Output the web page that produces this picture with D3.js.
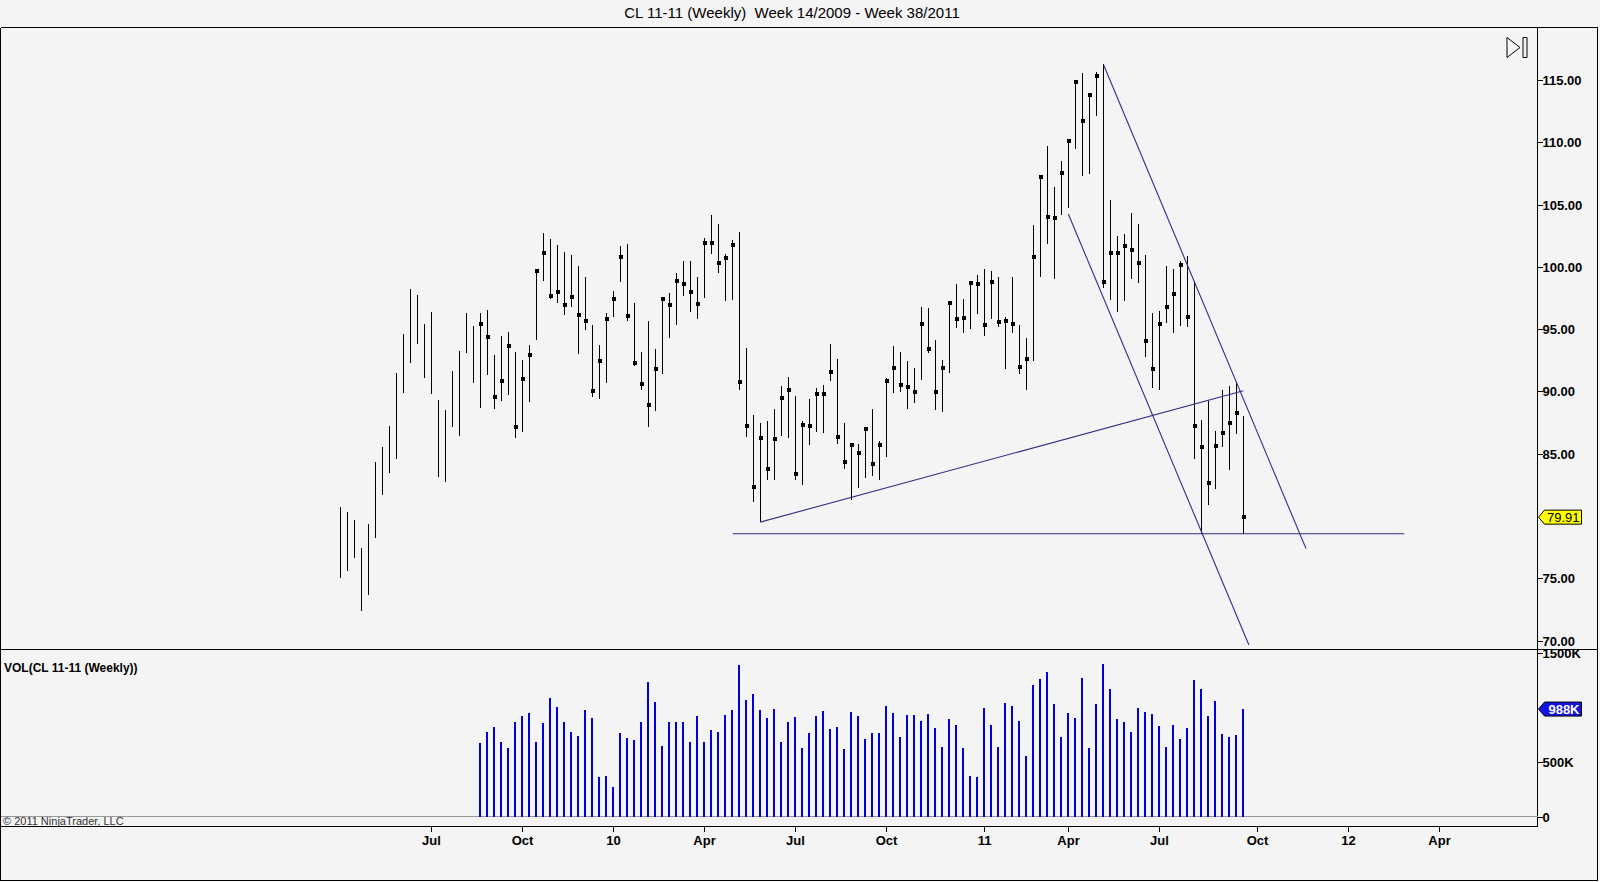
<!DOCTYPE html>
<html>
<head>
<meta charset="utf-8">
<script src="https://cdn.jsdelivr.net/npm/d3@7"></script>
<style>
  html, body { margin: 0; padding: 0; background: #f4f4f4; }
  svg { display: block; font-family: "Liberation Sans", Arial, sans-serif; }
</style>
</head>
<body>
<svg id="chart" width="1600" height="882"></svg>
<script>
// weekly bars, first bar = week 14/2009 (Fri Apr 3)
const firstBar = Date.UTC(2009, 3, 3);

const highs = [80.72,80.29,79.65,77.40,79.35,84.32,85.52,87.21,91.47,94.61,
  98.23,97.75,95.42,96.38,89.30,88.50,91.63,93.24,96.30,95.26,
  96.30,96.54,92.92,94.45,94.77,93.16,92.52,93.72,99.84,102.68,
  102.26,101.72,101.16,100.97,100.08,99.20,95.34,93.72,96.33,98.10,
  101.64,101.80,97.13,93.19,95.68,93.43,97.45,97.94,99.47,100.51,
  100.51,99.22,102.28,104.13,103.41,101.00,102.12,102.76,93.46,88.10,
  87.43,87.61,88.56,90.43,91.15,89.65,87.64,89.38,90.25,90.51,
  93.80,92.58,87.43,85.87,85.82,87.05,88.58,86.00,91.05,93.65,
  93.19,92.44,91.85,96.76,96.68,94.13,92.52,97.27,98.64,97.43,
  98.88,99.36,99.84,99.68,99.20,96.00,99.20,95.31,94.29,103.38,
  107.22,109.74,106.40,108.53,110.22,114.97,115.53,113.92,115.64,116.26,
  105.40,102.44,102.66,104.32,103.46,100.97,96.28,96.46,100.03,99.84,
  100.49,100.89,98.88,87.70,89.22,86.81,90.11,90.43,90.70,88.02];

const lows = [75.00,75.57,76.62,72.35,73.64,78.23,81.69,83.46,84.58,89.89,
  92.30,93.83,91.10,89.81,83.13,82.73,87.16,86.43,93.11,90.70,
  88.68,91.34,88.60,89.25,89.73,86.27,86.75,89.17,94.13,98.90,
  97.45,97.13,96.14,96.81,93.03,94.96,89.57,89.41,90.70,96.00,
  98.82,95.68,92.06,90.13,87.16,88.44,91.42,94.32,95.36,97.70,
  96.41,95.84,97.53,101.07,99.47,97.29,97.37,90.11,86.35,81.12,
  79.51,82.87,82.87,86.41,86.30,82.87,82.47,85.68,86.75,86.65,
  90.86,85.82,83.81,81.26,82.25,83.05,83.19,82.92,84.74,89.84,
  89.97,88.56,89.04,90.91,93.06,88.50,88.36,91.50,95.07,94.72,
  94.99,96.22,94.48,95.84,95.20,91.82,94.72,91.42,90.13,92.47,
  99.18,101.83,99.01,104.13,104.73,109.50,107.27,107.43,112.07,98.29,
  97.35,96.41,97.29,99.04,98.69,92.79,90.25,90.11,95.47,94.72,
  95.28,95.20,84.61,78.58,80.91,82.20,85.55,83.73,86.62,78.58];

// no close/volume in the data for the first 20 weeks
const closes = [null,null,null,null,null,null,null,null,null,null,
  null,null,null,null,null,null,null,null,null,null,
  95.44,94.40,89.57,90.86,93.67,87.16,91.00,92.95,99.70,101.15,
  97.67,98.02,96.97,97.61,96.16,95.68,90.05,92.47,95.84,97.45,
  100.83,96.08,92.30,90.62,88.93,91.82,97.45,96.97,98.90,98.66,
  98.02,97.05,101.88,101.88,100.27,100.75,101.72,90.78,87.24,82.33,
  86.27,83.75,86.17,89.49,90.13,83.38,87.32,87.24,89.79,89.79,
  91.58,86.35,84.34,85.71,85.06,86.97,84.18,85.71,90.83,91.90,
  90.51,90.33,89.97,95.44,93.43,89.97,91.90,97.13,95.84,95.92,
  98.74,98.66,95.36,98.82,95.60,95.68,95.44,91.98,92.63,100.83,
  107.18,103.97,103.89,107.51,110.08,114.83,111.69,113.79,115.35,98.82,
  101.15,101.15,101.64,101.32,100.30,94.07,91.82,95.44,96.81,97.85,
  100.11,96.00,87.24,85.55,82.65,85.63,86.67,87.48,88.23,79.91];

// volume in thousands
const volumes = [null,null,null,null,null,null,null,null,null,null,
  null,null,null,null,null,null,null,null,null,null,
  681,782,819,690,632,865,926,948,690,856,
  1092,1009,871,782,742,975,902,365,374,273,
  764,718,705,865,1239,1049,650,871,871,865,
  690,920,690,797,782,938,981,1395,1073,1129,
  981,908,991,690,871,917,632,764,926,972,
  807,825,623,963,926,715,764,764,1018,948,
  733,935,935,880,945,816,641,899,843,632,
  374,365,1000,843,641,1046,1018,880,558,1211,
  1266,1331,1037,733,954,908,1276,632,1037,1405,
  1175,899,871,779,1000,963,945,834,641,843,
  715,816,1257,1175,926,1064,761,733,751,988];

// drawn lines: [bar index, price] -> [bar index, price]
const trendLines = [
  [[60, 79.51], [129, 90.05]],
  [[109.05, 116.2], [137.96, 77.38]],
  [[104.0, 104.24], [129.8, 69.65]],
  [[56.06, 78.58], [152, 78.58]]
];

const priceTicks = [70, 75, 80, 85, 90, 95, 100, 105, 110, 115];
const volTicks = [0, 500, 1000, 1500];
const tickMonths = ["2009-07","2009-10","2010-01","2010-04","2010-07","2010-10",
  "2011-01","2011-04","2011-07","2011-10","2012-01","2012-04"];
const tickLabels = ["Jul","Oct","10","Apr","Jul","Oct","11","Apr","Jul","Oct","12","Apr"];

const lastPrice = 79.91;
const lastVol = 988;

const svg = d3.select("#chart");
const axisX = 1537.5;

function barDate(i) { return new Date(firstBar + i * 7 * 864e5); }

const x = d3.scaleUtc()
  .domain([barDate(0), barDate(129)])
  .range([340.3, 1243.3]);
const y = d3.scaleLinear().domain([69.3, 119.23]).range([649.3, 27.3]);
const yv = d3.scaleLinear().domain([0, 1500]).range([816.7, 653.3]);

function px(i) { return Math.round(x(barDate(i))) + 0.5; }

svg.append("rect").attr("width", 1600).attr("height", 882).attr("fill", "#f4f4f4");

// title
svg.append("text")
  .attr("x", 792).attr("y", 18)
  .attr("text-anchor", "middle")
  .style("font-size", "15px")
  .style("white-space", "pre")
  .attr("fill", "#000")
  .text("CL 11-11 (Weekly)  Week 14/2009 - Week 38/2011");

// frames
const frame = svg.append("g").attr("stroke", "#000").attr("stroke-width", 1).attr("fill", "none")
  .attr("shape-rendering", "crispEdges");
frame.append("line").attr("x1", 0.5).attr("x2", 1597.5).attr("y1", 27.5).attr("y2", 27.5);
frame.append("line").attr("x1", 0.5).attr("x2", 0.5).attr("y1", 27.5).attr("y2", 880.5);
frame.append("line").attr("x1", 1597.5).attr("x2", 1597.5).attr("y1", 27.5).attr("y2", 880.5);
frame.append("line").attr("x1", 0.5).attr("x2", 1597.5).attr("y1", 649.5).attr("y2", 649.5);
frame.append("line").attr("x1", 0.5).attr("x2", axisX).attr("y1", 826.5).attr("y2", 826.5);
frame.append("line").attr("x1", 0.5).attr("x2", 1597.5).attr("y1", 880.5).attr("y2", 880.5);
frame.append("line").attr("x1", axisX).attr("x2", axisX).attr("y1", 27.5).attr("y2", 826.5);
svg.append("line").attr("x1", 0.5).attr("x2", axisX).attr("y1", 816.5).attr("y2", 816.5)
  .attr("stroke", "#999").attr("shape-rendering", "crispEdges");

// price bars
const idx = d3.range(highs.length);
const bars = svg.append("g").attr("shape-rendering", "crispEdges");
bars.selectAll("line").data(idx).join("line")
  .attr("x1", d => px(d)).attr("x2", d => px(d))
  .attr("y1", d => Math.round(y(highs[d]))).attr("y2", d => Math.round(y(lows[d])))
  .attr("stroke", "#000").attr("stroke-width", 1);
bars.selectAll("rect").data(idx.filter(d => closes[d] != null)).join("rect")
  .attr("x", d => px(d) - 2).attr("y", d => Math.round(y(closes[d])) - 2)
  .attr("width", 4).attr("height", 4)
  .attr("fill", "#000");

// trend lines
svg.append("g").selectAll("line").data(trendLines).join("line")
  .attr("x1", d => x(barDate(d[0][0]))).attr("y1", d => y(d[0][1]))
  .attr("x2", d => x(barDate(d[1][0]))).attr("y2", d => y(d[1][1]))
  .attr("stroke", "#2e2e8a").attr("stroke-width", 1.1);

// volume
svg.append("g").attr("shape-rendering", "crispEdges")
  .selectAll("rect").data(idx.filter(d => volumes[d] != null)).join("rect")
  .attr("x", d => Math.round(x(barDate(d))) - 1)
  .attr("y", d => yv(volumes[d]))
  .attr("width", 2)
  .attr("height", d => yv(0) - yv(volumes[d]))
  .attr("fill", "#0000dc");

svg.append("text").attr("x", 4).attr("y", 672)
  .style("font-size", "12px").style("font-weight", "bold")
  .text("VOL(CL 11-11 (Weekly))");

svg.append("text").attr("x", 3).attr("y", 825)
  .style("font-size", "11px").attr("fill", "#333")
  .text("\u00a9 2011 NinjaTrader, LLC");

// right axes; a label that would sit under the last-value marker is left out
function axisTicks(ticks, scale, fmt, markerY) {
  const g = svg.append("g");
  ticks.filter(t => Math.abs(scale(t) - markerY) > 14).forEach(t => {
    const yy = Math.round(scale(t)) + 0.5;
    g.append("line").attr("x1", axisX).attr("x2", axisX + 5).attr("y1", yy).attr("y2", yy)
      .attr("stroke", "#000").attr("shape-rendering", "crispEdges");
    g.append("text").attr("x", axisX + 5).attr("y", yy + 4.5)
      .style("font-size", "13px").style("font-weight", "bold")
      .text(fmt(t));
  });
}
axisTicks(priceTicks, y, d3.format(".2f"), y(lastPrice));
axisTicks(volTicks, yv, v => v === 0 ? "0" : v + "K", yv(lastVol));

// last value markers
function marker(yc, fill, txtColor, txt, bold) {
  const g = svg.append("g");
  const x0 = axisX + 1, x1 = 1581.5, h = 7;
  g.append("path")
    .attr("d", `M${x0},${yc} L${x0 + 6},${yc - h} L${x1},${yc - h} L${x1},${yc + h} L${x0 + 6},${yc + h} Z`)
    .attr("fill", fill).attr("stroke", "#000").attr("stroke-width", 1);
  g.append("text").attr("x", x1 - 2).attr("y", yc + 4.5)
    .attr("text-anchor", "end")
    .style("font-size", "13px").style("font-weight", bold ? "bold" : "normal")
    .attr("fill", txtColor).text(txt);
}
marker(y(lastPrice), "#ffff00", "#000", d3.format(".2f")(lastPrice), false);
marker(yv(lastVol), "#1414e6", "#fff", lastVol + "K", true);

// time axis
const tAxis = svg.append("g");
tickMonths.forEach((m, i) => {
  const [yr, mo] = m.split("-").map(Number);
  const t = d3.utcFriday.ceil(new Date(Date.UTC(yr, mo - 1, 1)));
  const tx = Math.round(x(t)) + 0.5;
  tAxis.append("line").attr("x1", tx).attr("x2", tx).attr("y1", 826.5).attr("y2", 832)
    .attr("stroke", "#000").attr("shape-rendering", "crispEdges");
  tAxis.append("text").attr("x", tx).attr("y", 845)
    .attr("text-anchor", "middle")
    .style("font-size", "13px").style("font-weight", "bold")
    .text(tickLabels[i]);
});

// scroll-to-end icon
svg.append("path")
  .attr("d", "M1507,37.5 L1520,47.5 L1507,57.5 Z M1523,37.5 h4 v20 h-4 Z")
  .attr("fill", "none").attr("stroke", "#000").attr("stroke-width", 1);
</script>
</body>
</html>
